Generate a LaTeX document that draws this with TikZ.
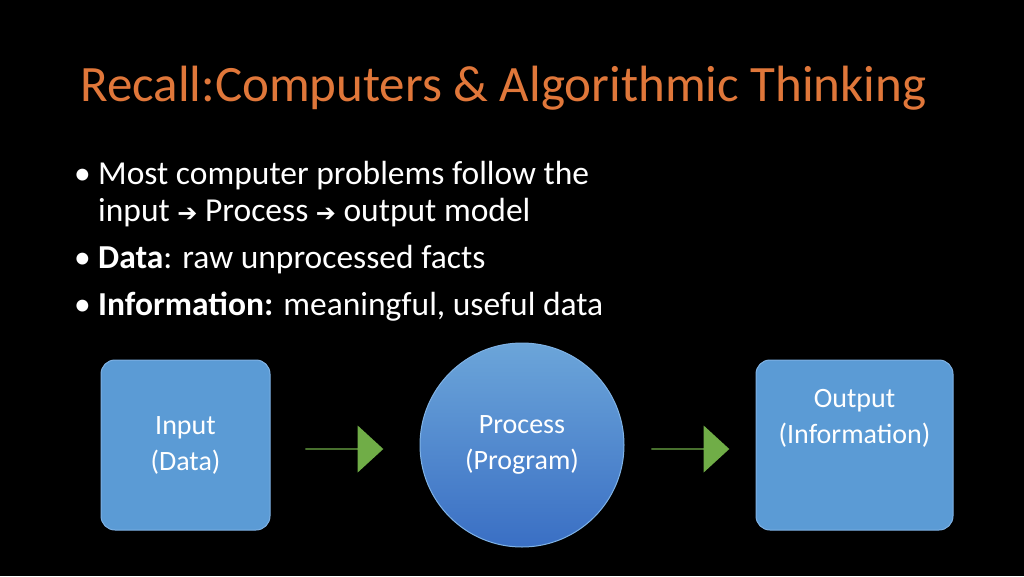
\documentclass[tikz,border=0pt]{standalone}
\usepackage{fontspec}
\setmainfont{Carlito}
\usetikzlibrary{shapes.arrows}
\definecolor{ttl}{HTML}{E0773A}
\definecolor{bx}{HTML}{5B9BD5}
\definecolor{bxl}{HTML}{7FB2E5}
\definecolor{circ}{HTML}{3A6FC4}
\definecolor{grn}{HTML}{70AD47}
\begin{document}
\begin{tikzpicture}[x=1pt,y=-1pt,
  box/.style={draw=bxl,line width=1pt,fill=bx,rounded corners=14pt,text=white,font=\fontsize{28}{36}\selectfont,align=center,inner sep=0pt},
  garrow/.style={single arrow,fill=grn,draw=none,minimum height=78pt,minimum width=47pt,single arrow head extend=8.5pt,single arrow tip angle=85,inner sep=0pt,shape border uses incircle=false}]
\fill[black] (0,0) rectangle (1024,576);
\useasboundingbox (0,0) rectangle (1024,576);
\node[anchor=base west,text=ttl,font=\fontsize{51}{56}\selectfont,inner sep=0pt] (title) at (80,101) {Recall:Computers \& Algorithmic Thinking};
\begin{scope}[every node/.style={anchor=base west,text=white,font=\fontsize{33.5}{38}\selectfont,inner sep=0pt}]
\node (b1) at (74,184) {•};
\node (t1) at (98,184) {Most computer problems follow the};
\node (t2) at (98,221) {input {\fontspec{DejaVu Sans}\bfseries\fontsize{24}{28}\selectfont➔} Process {\fontspec{DejaVu Sans}\bfseries\fontsize{24}{28}\selectfont➔} output model};
\node (b2) at (74,268) {•};
\node (t3) at (98,268) {\textbf{Data}: raw unprocessed facts};
\node (b3) at (74,315) {•};
\node (t4) at (98,315) {\textbf{Information:} meaningful, useful data};
\end{scope}
\node[box,minimum width=169pt,minimum height=170pt] (in) at (185.5,445) {Input\\(Data)};
\node[box,minimum width=197pt,minimum height=170pt] (out) at (854.5,445) {Output\\(Information)\\[22pt]};
\node[circle,draw=bxl,line width=1pt,shading=axis,top color=bx!90!white,bottom color=circ,shading angle=0,minimum size=204pt,text=white,font=\fontsize{28}{36}\selectfont,align=center,inner sep=0pt] (proc) at (522,445) {Process\\(Program)};
\node[garrow] (a1) at (344,449) {};
\node[garrow] (a2) at (690,449) {};
\end{tikzpicture}
\end{document}
